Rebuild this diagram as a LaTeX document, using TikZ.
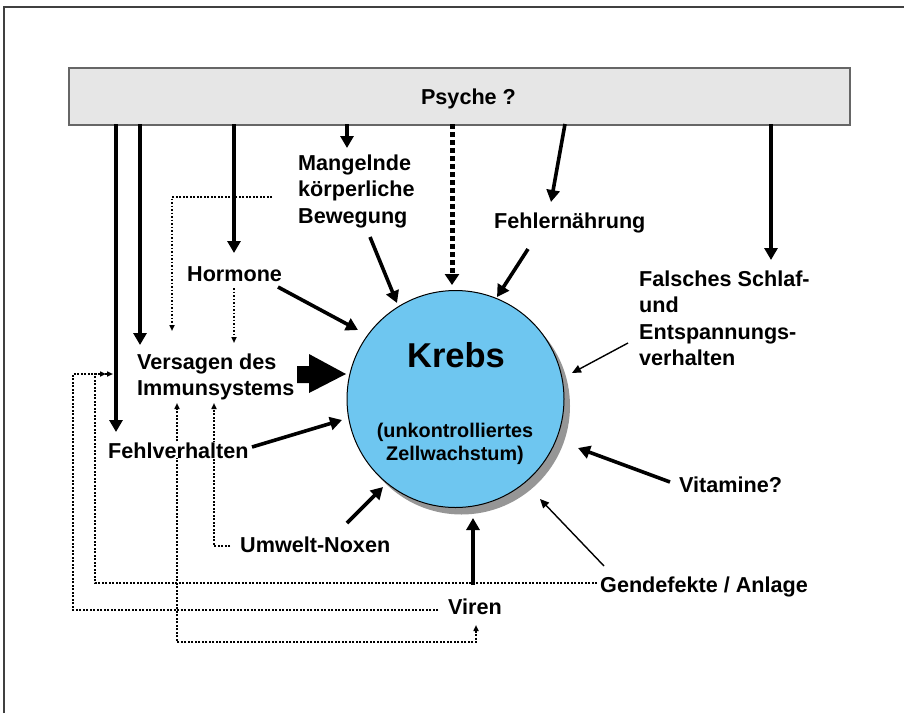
\documentclass[tikz,border=0pt]{standalone}
\usepackage{fontspec}
\setmainfont{Liberation Sans}
\usetikzlibrary{arrows.meta}
\definecolor{kblue}{RGB}{110,198,240}
\definecolor{boxgray}{RGB}{230,230,230}
\definecolor{shadowgray}{RGB}{150,150,150}
\begin{document}
\begin{tikzpicture}[x=1pt,y=-1pt,
  lbl/.style={font=\bfseries\fontsize{21.6}{26.5}\selectfont, inner sep=0pt, align=left},
  thickarr/.style={line width=3.6pt, -{Triangle[length=12pt,width=13pt]}},
  thinarr/.style={line width=1.4pt, -{Triangle[length=9pt,width=8pt]}},
  smalltip/.style={-{Triangle[length=6pt,width=5pt]}},
  dotline/.style={line width=1.9pt, dash pattern=on 1.9pt off 1.6pt},
  heavydot/.style={line width=5pt, dash pattern=on 5pt off 3pt, -{Triangle[length=11pt,width=14pt]}}
]
\useasboundingbox (0,0) rectangle (904,713);
% outer frame
\draw[line width=1.5pt, black!75] (4,713) -- (4,7) -- (904,7);
% Psyche box
\node[draw=black!60, line width=1.5pt, fill=boxgray, minimum width=781pt, minimum height=57pt, inner sep=0pt, anchor=north west] (psyche) at (68,67) {};
\node[lbl, anchor=base] (psychetxt) at (468.5,104) {Psyche ?};
% Krebs circle
\node[circle, fill=shadowgray, minimum size=217pt, inner sep=0pt] (shadow) at (461.5,406) {};
\node[circle, draw=black, line width=1pt, fill=kblue, minimum size=217pt, inner sep=0pt] (krebs) at (455.5,399) {};
\node[font=\bfseries\fontsize{34.5}{40}\selectfont, inner sep=0pt, anchor=base] (krebstxt) at (456,367) {Krebs};
\node[font=\bfseries\fontsize{19.8}{23}\selectfont, inner sep=0pt, anchor=north, align=center] (zell) at (455,422.5) {(unkontrolliertes\\Zellwachstum)};
% labels
\node[lbl, anchor=north west] (mang) at (298,154.3) {Mangelnde\\körperliche\\Bewegung};
\node[lbl, anchor=base west] (fehlern) at (494,228) {Fehlernährung};
\node[lbl, anchor=base west] (horm) at (187,281) {Hormone};
\node[lbl, anchor=north west] (vers) at (137,353.3) {Versagen des\\Immunsystems};
\node[lbl, anchor=north west] (schlaf) at (639,270.3) {Falsches Schlaf-\\und\\Entspannungs-\\verhalten};
\node[lbl, anchor=base west] (umwelt) at (240,552) {Umwelt-Noxen};
\node[lbl, anchor=base west] (viren) at (448,614) {Viren};
\node[lbl, anchor=base west] (gen) at (600,592) {Gendefekte / Anlage};
\node[lbl, anchor=base west] (vit) at (679,492) {Vitamine?};
% arrows from Psyche
\draw[thickarr] (116,124) -- (116,432);
\draw[thickarr] (140,124) -- (140,345);
\draw[thickarr] (234,124) -- (234,253);
\draw[thickarr] (347,124) -- (347,148);
\draw[heavydot] (452,124) -- (452,285);
\draw[thickarr] (565,124) -- (551,202);
\draw[thickarr] (771,124) -- (771,260);
% arrows to Krebs
\draw[thickarr] (370,237) -- (397,303);
\draw[thickarr] (528,249) -- (497,297);
\draw[thickarr] (278,287) -- (358,330);
\draw[thickarr] (252,447) -- (342,420);
\draw[thickarr] (347,523) -- (383,487);
\draw[thickarr] (473,585) -- (473,518);
\draw[thinarr] (604,566) -- (540,499);
\draw[thickarr] (670,482) -- (578,448);
\draw[thinarr] (628,343) -- (572,373);
% block arrow Versagen -> Krebs
\fill (297,366) -- (309,366) -- (309,354) -- (346,374) -- (309,393) -- (309,383) -- (297,383) -- cycle;
% dotted connectors
\draw[dotline, smalltip] (272,197) -- (172,197) -- (172,331);
\draw[dotline, smalltip] (234,288) -- (234,343);
\draw[dotline, smalltip] (230,546) -- (214,546) -- (214,403);
\draw[dotline, {Triangle[length=6pt,width=5pt]}-{Triangle[length=6pt,width=5pt]}] (476,625) -- (476,642) -- (177,642) -- (177,403);
\draw[dotline, smalltip] (597,583) -- (95,583) -- (95,374) -- (106,374);
\draw[dotline, smalltip] (438,610) -- (73,610) -- (73,374) -- (113,374);
% Fehlverhalten on top with white background
\node[lbl, anchor=base west, fill=white] (fehlv) at (108,458) {Fehlverhalten};
\end{tikzpicture}
\end{document}
